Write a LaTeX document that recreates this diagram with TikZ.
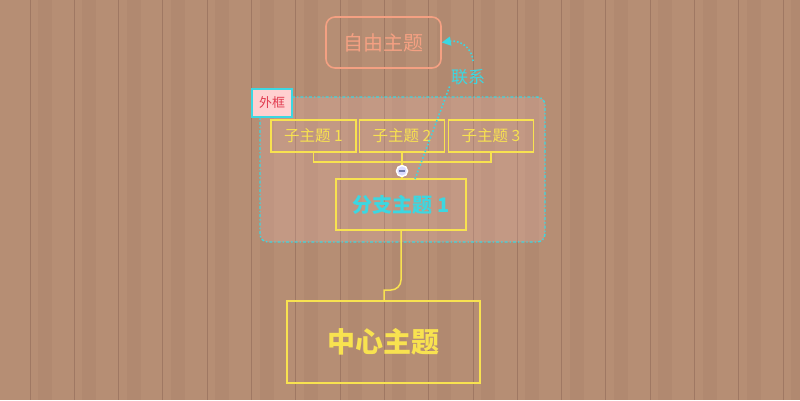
\documentclass[tikz,border=0pt]{standalone}
\usepackage{fontspec}
\setmainfont{Noto Sans CJK SC}
\usetikzlibrary{arrows.meta,calc}
\definecolor{wood}{RGB}{182,142,116}
\definecolor{plank}{RGB}{150,112,92}
\definecolor{ylw}{RGB}{248,226,80}
\definecolor{cyn}{RGB}{60,215,225}
\definecolor{salmon}{RGB}{244,160,130}
\definecolor{pinkfill}{RGB}{255,208,208}
\definecolor{redtxt}{RGB}{225,60,80}
\definecolor{clgrey}{RGB}{110,120,170}
\tikzset{
  px/.style={x=1pt,y=-1pt},
  subbox/.style={draw=ylw,line width=1.5pt,minimum width=85pt,minimum height=32pt,inner sep=0pt,text=ylw,font=\fontsize{15.5}{18}\selectfont},
  branchbox/.style={draw=ylw,line width=1.5pt,minimum width=130pt,minimum height=51pt,inner sep=0pt,text=cyn,font=\bfseries\fontsize{20}{24}\selectfont},
  centralbox/.style={draw=ylw,line width=1.5pt,minimum width=193pt,minimum height=82pt,inner sep=0pt,text=ylw,font=\bfseries\fontsize{28}{32}\selectfont},
  freebox/.style={draw=salmon,line width=1.6pt,rounded corners=9pt,minimum width=115pt,minimum height=51pt,inner sep=0pt,text=salmon,font=\fontsize{20}{24}\selectfont},
  conn/.style={draw=ylw,line width=1.5pt},
  rel/.style={draw=cyn,line width=1.6pt,dotted},
}
\begin{document}
\begin{tikzpicture}[px]
\useasboundingbox (0,0) rectangle (800,400);
\fill[wood] (0,0) rectangle (800,400);
\foreach \k in {0,...,17}{
  \fill[plank,opacity=0.15] ({38+44.3*\k},0) rectangle ({52+44.3*\k},400);
}
\foreach \k in {0,...,17}{
  \draw[plank,line width=1pt,opacity=0.7] ({30+44.3*\k},0) -- ({30+44.3*\k},400);
}
% boundary
\draw[cyn,line width=1.4pt,dash dot,rounded corners=8pt,fill=pinkfill,fill opacity=0.18] (260,97) rectangle (545,242);
\node[draw=cyn,line width=1.6pt,fill=pinkfill,minimum width=40pt,minimum height=28pt,inner sep=0pt,text=redtxt,font=\fontsize{13}{15}\selectfont] (bl) at (272,103) {外框};
% nodes
\node[subbox] (s1) at (313.5,136) {子主题 1};
\node[subbox] (s2) at (402,136) {子主题 2};
\node[subbox] (s3) at (491,136) {子主题 3};
\node[branchbox] (br) at (401,204.5) {分支主题 1};
\node[centralbox] (ct) at (383.5,342) {中心主题};
\node[freebox] (fr) at (383.5,42.5) {自由主题};
\coordinate (jn) at (402,162);
\node[circle,draw=white,fill=white!85!blue,line width=1.5pt,minimum size=11pt,inner sep=0pt] (cl) at (402,171) {};
% connectors
\draw[conn] (s1.south) -- (s1.south |- jn) -- (s3.south |- jn) -- (s3.south);
\draw[conn] (s2.south) -- (jn) -- (cl.north);
\draw[conn] (cl.south) -- (br.north -| cl);
\draw[line width=1.4pt,clgrey] ($(cl.center)+(-3,0)$) -- ($(cl.center)+(3,0)$);
\draw[conn] (br.south) -- (401,280) arc[start angle=0,end angle=90,radius=10] -- (384,290) -- (ct.north -| 384,0);
% relationship
\node[text=cyn,font=\fontsize{17}{20}\selectfont,inner sep=1pt] (rl) at (468,77) {联系};
\coordinate (ra) at (415,179);
\draw[rel] (ra) -- (rl.south west);
\draw[rel,-{Triangle[length=9pt,width=9pt]}] (473,61) .. controls (472,46) and (458,40) .. (fr.east);
\end{tikzpicture}
\end{document}
